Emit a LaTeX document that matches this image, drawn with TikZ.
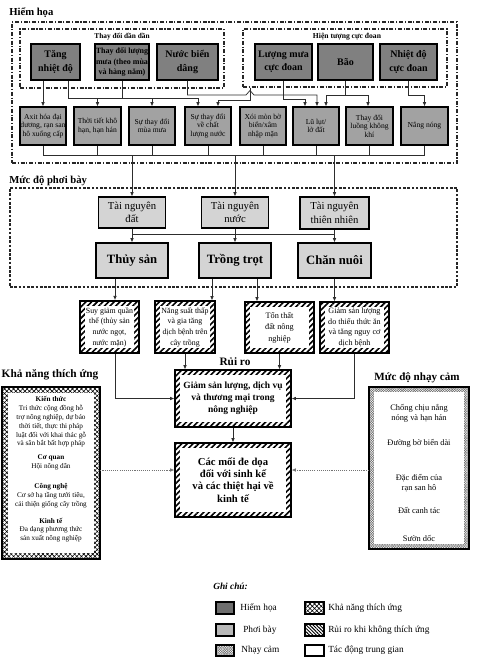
\documentclass[tikz,border=0pt]{standalone}
\usepackage{fontspec}
\setmainfont{Liberation Serif}
\usetikzlibrary{arrows.meta,patterns,patterns.meta}
\definecolor{hzdark}{RGB}{128,128,128}
\definecolor{hzmid}{RGB}{162,162,162}
\definecolor{exl}{RGB}{212,212,212}
\definecolor{lgdark}{RGB}{110,110,110}
\definecolor{lgmid}{RGB}{185,185,185}
\definecolor{ln}{RGB}{45,45,45}
\newcommand{\myfs}[2]{\fontsize{#1}{#2}\selectfont}
\begin{document}
\begin{tikzpicture}[x=0.75pt,y=-0.75pt,
  wh/.style 2 args={minimum width=#1*0.75pt,minimum height=#2*0.75pt},
  bx/.style={draw=black,line width=0.8pt,inner sep=0pt,align=center},
  hzA/.style={bx,fill=hzdark,font=\bfseries\myfs{7.5}{10}},
  hzS/.style={bx,fill=hzdark,font=\bfseries\myfs{6}{7.6}},
  hzB/.style={bx,fill=hzmid,font=\myfs{5.7}{6.3}},
  exA/.style={bx,fill=exl,font=\myfs{8}{10}},
  exB/.style={bx,fill=exl,font=\bfseries\myfs{9.5}{11}},
  insetw/.style={path picture={\fill[white]([shift={(#1,#1)}]path picture bounding box.south west) rectangle ([shift={(-#1,-#1)}]path picture bounding box.north east);}},
  hatchbox/.style={bx,pattern={Lines[angle=45,distance=3pt,line width=1.2pt]},insetw=4pt},
  xhatchbox/.style={bx,pattern={Hatch[angle=45,distance=2.4pt,line width=0.45pt]}},
  stipbox/.style={bx,fill=black!12,pattern={Hatch[angle=45,distance=1.3pt,line width=0.35pt]},pattern color=black!55},
  grp/.style={draw=black!85,line width=0.8pt,dash pattern=on 3pt off 1.3pt on 0.8pt off 1.3pt},
  grpE/.style={draw=black!85,line width=0.8pt,dash pattern=on 2pt off 1.2pt},
  ttl/.style={font=\bfseries\myfs{8}{9.6},inner sep=0pt},
  cn/.style={draw=ln,line width=0.55pt},
  ar/.style={cn,-{Latex[length=3.2pt,width=2.6pt]}},
  dar/.style={draw=black!55,line width=0.5pt,dash pattern=on 0.8pt off 0.8pt,-{Latex[length=3.2pt,width=2.6pt]}},
  lt/.style={font=\myfs{7}{8},inner sep=0pt,anchor=west},
]
\useasboundingbox (0,0) rectangle (486,665);
\fill[white] (0,0) rectangle (486,665);

% ---------------- Hazards ----------------
\node[ttl,anchor=west] (tH) at (9,13) {Hiểm họa};
\node[grp,wh={445}{141}] (gH) at (234.5,92.5) {};
\node[grp,wh={204}{59}] (g1) at (122,58.5) {};
\node[grp,wh={204}{58}] (g2) at (345,58) {};
\node[font=\bfseries\myfs{5.5}{6.5},inner sep=0pt] (g1t) at (122,37) {Thay đổi dần dần};
\node[font=\bfseries\myfs{5.7}{6.5},inner sep=0pt] (g2t) at (347,37) {Hiện tượng cực đoan};

\node[hzA,wh={49}{36}] (h1) at (55.5,62) {Tăng\\nhiệt độ};
\node[hzS,wh={54}{36}] (h2) at (122,62) {Thay đổi lượng\\mưa (theo mùa\\và hàng năm)};
\node[hzA,wh={61}{36}] (h3) at (187.5,62) {Nước biển\\dâng};
\node[hzA,wh={57}{36}] (h4) at (283.5,62) {Lượng mưa\\cực đoan};
\node[hzA,wh={55}{36}] (h5) at (345.5,62) {Bão};
\node[hzA,wh={57}{36}] (h6) at (408.5,62) {Nhiệt độ\\cực đoan};

\node[hzB,wh={46}{38}] (s1) at (43,126) {Axit hóa đại\\dương, rạn san\\hô xuống cấp};
\node[hzB,wh={47}{38}] (s2) at (97.5,126) {Thời tiết khô\\hạn, hạn hán};
\node[hzB,wh={46}{38}] (s3) at (152,126) {Sự thay đổi\\mùa mưa};
\node[hzB,wh={46}{38}] (s4) at (208,126) {Sự thay đổi\\về chất\\lượng nước};
\node[hzB,wh={46}{38}] (s5) at (263,126) {Xói mòn bờ\\biển/xâm\\nhập mặn};
\node[hzB,wh={46}{38}] (s6) at (316,126) {Lũ lụt/\\lở đất};
\node[hzB,wh={47}{38}] (s7) at (369.5,126) {Thay đổi\\luồng không\\khí};
\node[hzB,wh={47}{38}] (s8) at (424.5,126) {Nắng nóng};

% connectors hazards -> second row
\draw[ar] (s1.north |- h1.south) -- (s1.north);
\coordinate (b1) at (68,98);
\coordinate (b1e) at (198,98);
\draw[cn] (b1 |- h1.south) -- (b1) -- (b1e);
\draw[cn] (h2.south) -- (h2.south |- b1);
\draw[ar] (b1 -| s2.north) -- (s2.north);
\draw[ar] (b1 -| s3.north) -- (s3.north);
\draw[ar] (b1e) -- (b1e |- s4.north);
\coordinate (c1) at (187.5,95);
\coordinate (j1) at (246,95);
\coordinate (j2) at (250,90.5);
\coordinate (j3) at (254,95);
\coordinate (c1e) at (317,95);
\draw[ar] (h3.south) -- (c1) -- (j1) -- (j2) -- (j3) -- (c1e) -- (c1e |- s6.north);
\coordinate (c2) at (250,100);
\coordinate (c2e) at (218,100);
\draw[ar] (c2 |- g2.south) -- (c2) -- (c2e) -- (c2e |- s4.north);
\coordinate (c3) at (283.5,99);
\coordinate (c3e) at (305,99);
\draw[ar] (h4.south) -- (c3) -- (c3e) -- (c3e |- s6.north);
\coordinate (c4a) at (326,95);
\coordinate (c4b) at (368,95);
\draw[cn] (h5.south) -- (h5.south |- c4a);
\draw[cn] (c4a) -- (c4b);
\draw[ar] (c4a) -- (c4a |- s6.north);
\draw[ar] (c4b) -- (c4b |- s7.north);
\coordinate (c5) at (408.5,95);
\draw[ar] (h6.south) -- (c5) -- (c5 -| s8.north) -- (s8.north);

% bottom bus
\coordinate (d0) at (0,155);
\foreach \n in {s1,s2,s3,s4,s5,s6,s7,s8} \draw[cn] (\n.south) -- (\n.south |- d0);
\draw[cn] (s1.south |- d0) -- (s8.south |- d0);

% ---------------- Exposure ----------------
\node[ttl,anchor=west] (tE) at (9,181) {Mức độ phơi bày};
\node[grpE,wh={447}{99}] (gE) at (233.5,237.5) {};
\node[exA,wh={67}{31}] (r1) at (132,212.5) {Tài nguyên\\đất};
\node[exA,wh={67}{31}] (r2) at (235,212.5) {Tài nguyên\\nước};
\node[exA,wh={69}{32}] (r3) at (334.5,213) {Tài nguyên\\thiên nhiên};
\draw[ar] (r1.north |- d0) -- (r1.north);
\draw[ar] (r2.north |- d0) -- (r2.north);
\draw[ar] (r3.north |- d0) -- (r3.north);

\node[exB,wh={72}{35}] (p1) at (132,260.5) {Thủy sản};
\node[exB,wh={72}{35}] (p2) at (235,260.5) {Trồng trọt};
\node[exB,wh={73}{35}] (p3) at (334.5,260.5) {Chăn nuôi};
\coordinate (e0) at (0,234);
\draw[cn] (r1.south) -- (r1.south |- e0) -- (r3.south |- e0) -- (r3.south);
\draw[ar] (r1.south |- e0) -- (p1.north);
\draw[ar] (r2.south) -- (p2.north);
\draw[ar] (r3.south |- e0) -- (p3.north);

% ---------------- Impacts ----------------
\node[hatchbox,font=\myfs{5.9}{8},wh={59}{52}] (i1) at (109.5,327) {Suy giảm quần\\thể (thủy sản\\nước ngọt,\\nước mặn)};
\node[hatchbox,font=\myfs{5.9}{8},wh={60}{52}] (i2) at (185,327) {Năng suất thấp\\và gia tăng\\dịch bệnh trên\\cây trồng};
\node[hatchbox,font=\myfs{6.2}{8.6},wh={69}{51}] (i3) at (279.5,327.5) {Tổn thất\\đất nông\\nghiệp};
\node[hatchbox,font=\myfs{6.1}{8},wh={69}{51}] (i4) at (354.5,327.5) {Giảm sản lượng\\do thiếu thức ăn\\và tăng nguy cơ\\dịch bệnh};
\coordinate (f1) at (115,0);
\coordinate (f2) at (212,0);
\coordinate (f3) at (257,0);
\draw[ar] (p1.south -| f1) -- (i1.north -| f1);
\draw[ar] (p2.south -| f2) -- (i2.north -| f2);
\draw[ar] (p2.south -| f3) -- (i3.north -| f3);
\draw[ar] (p3.south) -- (p3.south |- i4.north);

% ---------------- Risk ----------------
\node[ttl,font=\bfseries\myfs{8.5}{10}] (tR) at (235,362) {Rủi ro};
\node[hatchbox,font=\bfseries\myfs{7.1}{9},wh={116}{57}] (k1) at (233,398.5) {Giảm sản lượng, dịch vụ\\và thương mại trong\\nông nghiệp};
\node[hatchbox,font=\bfseries\myfs{8}{9.2},wh={116}{74}] (k2) at (233,480) {Các mối đe dọa\\đối với sinh kế\\và các thiệt hại về\\kinh tế};
\draw[ar] (i1.south -| f1) |- (k1.west);
\draw[ar] (i2.south) -- (i2.south |- k1.north);
\draw[ar] (i3.south) -- (i3.south |- k1.north);
\draw[ar] (i4.south) |- (k1.east);
\draw[ar] (k1.south) -- (k2.north);

% ---------------- Adaptive capacity ----------------
\node[font=\bfseries\myfs{8.5}{10},inner sep=0pt] (tA) at (50,375) {Khả năng thích ứng};
\node[xhatchbox,insetw=4.5pt,wh={98}{172}] (ad) at (51,473) {};
\node[font=\myfs{5.4}{6.6},align=center,inner sep=0pt] (a1) at (51,422) {\textbf{Kiến thức}\\Tri thức cộng đồng hỗ\\trợ nông nghiệp, dự báo\\thời tiết, thực thi pháp\\luật đối với khai thác gỗ\\và săn bắt bất hợp pháp};
\node[font=\myfs{5.4}{6.6},align=center,inner sep=0pt] (a2) at (51,462) {\textbf{Cơ quan}\\Hội nông dân};
\node[font=\myfs{5.4}{6.6},align=center,inner sep=0pt] (a3) at (51,496) {\textbf{Công nghệ}\\Cơ sở hạ tầng tưới tiêu,\\cải thiện giống cây trồng};
\node[font=\myfs{5.4}{6.6},align=center,inner sep=0pt] (a4) at (51,530) {\textbf{Kinh tế}\\Đa dạng phương thức\\sản xuất nông nghiệp};

% ---------------- Sensitivity ----------------
\node[font=\bfseries\myfs{8.3}{10},inner sep=0pt] (tS) at (417,378) {Mức độ nhạy cảm};
\node[stipbox,insetw=4pt,wh={100}{162}] (se) at (419,468) {};
\node[font=\myfs{6.3}{7.5},align=center,inner sep=0pt] (e1) at (419,413) {Chống chịu nắng\\nóng và hạn hán};
\node[font=\myfs{6.3}{7.5},align=center,inner sep=0pt] (e2) at (419,443) {Đường bờ biển dài};
\node[font=\myfs{6.3}{7.5},align=center,inner sep=0pt] (e3) at (419,483) {Đặc điểm của\\rạn san hô};
\node[font=\myfs{6.3}{7.5},align=center,inner sep=0pt] (e4) at (419,510) {Đất canh tác};
\node[font=\myfs{6.3}{7.5},align=center,inner sep=0pt] (e5) at (419,538) {Sườn dốc};

\coordinate (hh) at (0,470);
\draw[dar] (ad.east |- hh) -- (k2.west |- hh);
\draw[dar] (se.west |- hh) -- (k2.east |- hh);

% ---------------- Legend ----------------
\node[font=\bfseries\itshape\myfs{7}{8},inner sep=0pt,anchor=west] (lg) at (213,586) {Ghi chú:};
\node[bx,fill=lgdark,wh={18}{12}] (L1) at (225,608) {};
\node[lt] (L1t) at (240,608) {Hiểm họa};
\node[bx,fill=lgmid,wh={18}{12}] (L2) at (225,630) {};
\node[lt] (L2t) at (243,630) {Phơi bày};
\node[stipbox,wh={18}{11}] (L3) at (225,650.5) {};
\node[lt] (L3t) at (241,650.5) {Nhạy cảm};
\node[xhatchbox,wh={19}{12}] (L4) at (314.5,608) {};
\node[lt] (L4t) at (328,608) {Khả năng thích ứng};
\node[bx,pattern={Lines[angle=-45,distance=1.8pt,line width=0.7pt]},wh={19}{12}] (L5) at (314.5,630) {};
\node[lt] (L5t) at (328,630) {Rủi ro khi không thích ứng};
\node[bx,fill=white,wh={19}{11}] (L6) at (314.5,650.5) {};
\node[lt] (L6t) at (328,650.5) {Tác động trung gian};
\end{tikzpicture}
\end{document}
